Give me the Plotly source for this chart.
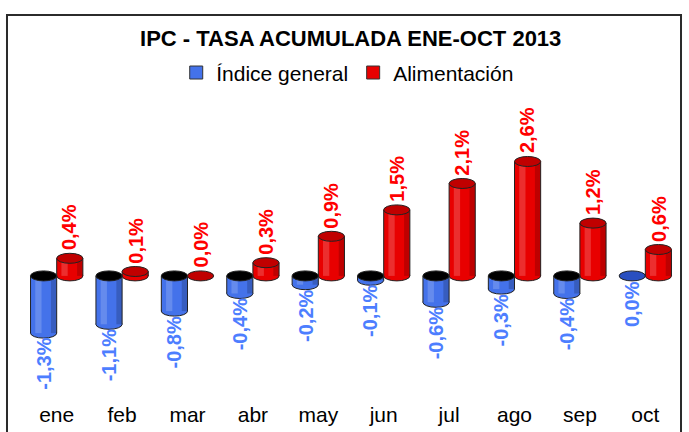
import plotly.graph_objects as go

meses = ["ene", "feb", "mar", "abr", "may", "jun", "jul", "ago", "sep", "oct"]
indice_general = [-1.3, -1.1, -0.8, -0.4, -0.2, -0.1, -0.6, -0.3, -0.4, 0.0]
alimentacion = [0.4, 0.1, 0.0, 0.3, 0.9, 1.5, 2.1, 2.6, 1.2, 0.6]

BLUE = "#4472EA"
BLUE_DARK = "#2A4FC0"
RED = "#E80000"
RED_DARK = "#C00000"
BLUE_TXT = "#4D7EFF"
RED_TXT = "#FF0000"
EDGE = "#222222"
FONT = "Liberation Sans, Arial"

W = 0.4
idx = list(range(len(meses)))

def fmt(v):
    return ("%.1f%%" % v).replace(".", ",")

fig = go.Figure()

series = [
    ("Índice general", indice_general, -W, BLUE, BLUE_DARK, BLUE_TXT),
    ("Alimentación", alimentacion, 0.0, RED, RED_DARK, RED_TXT),
]

# chart frame
shapes = [
    dict(type="rect", xref="paper", yref="paper", x0=-0.026, x1=1.0046, y0=-0.2, y1=1.328,
         line=dict(color="#2b2b2b", width=2), fillcolor="rgba(0,0,0,0)", layer="below"),
]
annotations = []
for name, vals, off, col, dark, tcol in series:
    fig.add_trace(go.Bar(
        x=idx, y=vals, offset=off, width=W, base=0,
        marker=dict(color=col, line=dict(width=0)),
        showlegend=False, name=name,
    ))
    fig.add_trace(go.Scatter(
        x=[None], y=[None], mode="markers", name=name,
        marker=dict(symbol="square", size=13, color=col, line=dict(color="#333333", width=1)),
    ))
    for i, v in zip(idx, vals):
        x0 = i + off
        x1 = x0 + W
        xc = x0 + W / 2
        lo, hi = min(0, v), max(0, v)
        if v != 0:
            shapes.append(dict(type="rect", xref="x", yref="y", x0=x0 + W * 0.18, x1=x0 + W * 0.42,
                               y0=lo, y1=hi, fillcolor="rgba(255,255,255,0.18)", line=dict(width=0), layer="above"))
            shapes.append(dict(type="rect", xref="x", yref="y", x0=x0 + W * 0.78, x1=x1,
                               y0=lo, y1=hi, fillcolor="rgba(0,0,0,0.18)", line=dict(width=0), layer="above"))
            shapes.append(dict(type="circle", xref="x", yref="y", x0=x0, x1=x1,
                               ysizemode="pixel", yanchor=lo, y0=-5, y1=5,
                               fillcolor=col, line=dict(color=EDGE, width=1), layer="below"))
            for xe in (x0, x1):
                shapes.append(dict(type="line", xref="x", yref="y", x0=xe, x1=xe, y0=lo, y1=hi,
                                   line=dict(color=EDGE, width=1), layer="above"))
            capcol = "#000000" if v < 0 else dark
        else:
            capcol = dark
        shapes.append(dict(type="circle", xref="x", yref="y", x0=x0, x1=x1,
                           ysizemode="pixel", yanchor=hi, y0=-5, y1=5,
                           fillcolor=capcol, line=dict(color=EDGE, width=1), layer="above"))
        if v > 0 or (v == 0 and off == 0.0):
            annotations.append(dict(x=xc, y=hi, xref="x", yref="y", text="<b>%s</b>" % fmt(v),
                                    textangle=-90, showarrow=False, yanchor="bottom", xanchor="center",
                                    yshift=6, font=dict(size=20, color=tcol, family=FONT)))
        else:
            annotations.append(dict(x=xc, y=lo, xref="x", yref="y", text="<b>%s</b>" % fmt(v),
                                    textangle=-90, showarrow=False, yanchor="top", xanchor="center",
                                    yshift=-3, font=dict(size=20, color=tcol, family=FONT)))

fig.update_layout(
    width=689, height=432,
    margin=dict(l=24, r=11, t=110, b=32, autoexpand=False),
    paper_bgcolor="white", plot_bgcolor="white",
    barmode="overlay",
    font=dict(family=FONT, color="#000000"),
    title=dict(text="<b>IPC - TASA ACUMULADA ENE-OCT 2013</b>", x=0.509, xanchor="center",
               y=1 - 38 / 432, yanchor="middle", yref="container",
               font=dict(size=22, color="#000000")),
    legend=dict(orientation="h", x=0.495, xanchor="center", y=1.128, yanchor="middle",
                font=dict(size=21), itemwidth=30, bgcolor="rgba(0,0,0,0)", traceorder="normal"),
    xaxis=dict(range=[-0.5, 9.5], tickmode="array", tickvals=idx, ticktext=meses,
               showgrid=False, zeroline=False, showline=False, ticks="",
               tickfont=dict(size=21), fixedrange=True),
    yaxis=dict(range=[-2.82, 3.77], visible=False, showgrid=False, zeroline=False, fixedrange=True),
    shapes=shapes,
    annotations=annotations,
)

fig.write_html("out.html", config={"displayModeBar": False},
               post_script="document.body.style.margin='0';")
